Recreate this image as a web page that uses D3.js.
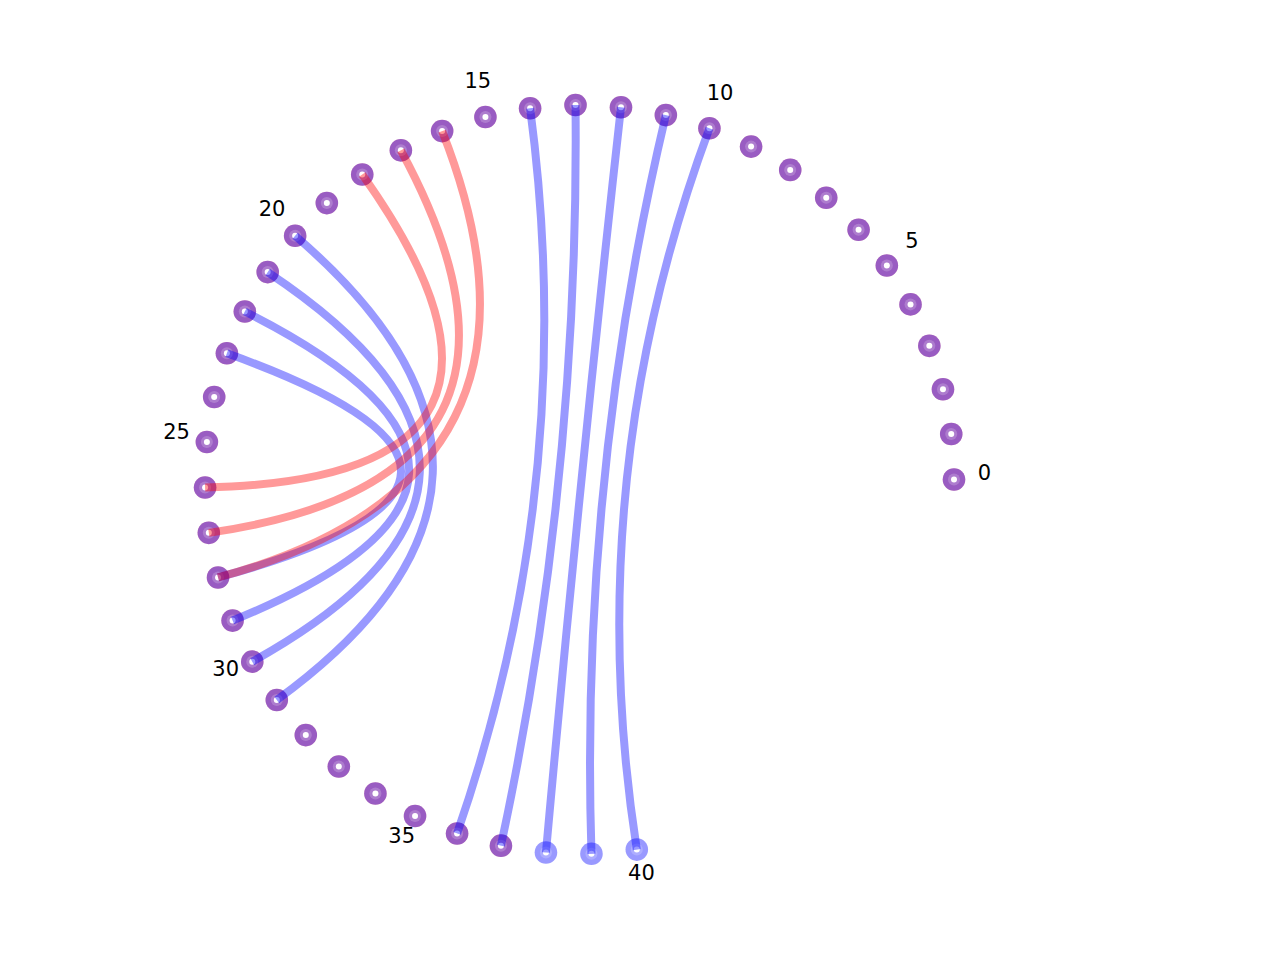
<!DOCTYPE html>
<html lang="en">
  <head>
    <meta charset="UTF-8">
    <title>Circular network</title>
    <script src="https://d3js.org/d3.v7.min.js"></script>
    <style>
      body { margin: 0; background: #fff; }
      text { font-family: "DejaVu Sans", sans-serif; }
    </style>
    <script>
      // node ids around the circle
      const nodes = [0, 1, 2, 3, 4, 5, 6, 7, 8, 9, 10, 11, 12, 13, 14, 15, 16, 17, 18, 19, 20,
                     21, 22, 23, 24, 25, 26, 27, 28, 29, 30, 31, 32, 33, 34, 35, 36, 37, 38, 39, 40];
      // nodes of each network
      const redNodes = [0, 1, 2, 3, 4, 5, 6, 7, 8, 9, 10, 11, 12, 13, 14, 15, 16, 17, 18, 19, 20,
                        21, 22, 23, 24, 25, 26, 27, 28, 29, 30, 31, 32, 33, 34, 35, 36, 37];
      const blueNodes = nodes;
      // links
      const redEdges = [[16, 28], [17, 27], [18, 26]];
      const blueEdges = [[10, 40], [11, 39], [12, 38], [13, 37], [14, 36],
                         [20, 31], [21, 30], [22, 29], [23, 28]];
      const tickLabels = [0, 5, 10, 15, 20, 25, 30, 35, 40];

      document.addEventListener('DOMContentLoaded', function() {
        const width = 1280;
        const height = 960;
        const cx = 579.5, cy = 479.5;
        const radius = 374.5;
        const labelRadius = 405;

        // angle in degrees, counter-clockwise from 3 o'clock
        const angle = d3.scaleLinear()
                        .domain([0, 40])
                        .range([0, 278.8]);

        const pos = (i, r) => {
          const a = angle(i) * Math.PI / 180;
          return [r * Math.cos(a), -r * Math.sin(a)];
        };

        const svg = d3.select("#chart")
                      .append("svg")
                      .attr("width", width)
                      .attr("height", height);

        const g = svg.append("g")
                     .attr("transform", "translate(" + cx + "," + cy + ")");

        // node discs, one layer per network
        const drawNodes = (list, colour) => {
          g.append("g")
           .selectAll("circle")
           .data(list)
           .enter()
           .append("circle")
           .attr("cx", d => pos(d, radius)[0])
           .attr("cy", d => pos(d, radius)[1])
           .attr("r", 11.3)
           .attr("fill", colour)
           .attr("fill-opacity", 0.4);
        };
        drawNodes(redNodes, "#ff0000");
        drawNodes(blueNodes, "#0000ff");

        const inner = g.append("g");
        inner.selectAll("circle.ring")
             .data(nodes)
             .enter()
             .append("circle")
             .attr("class", "ring")
             .attr("cx", d => pos(d, radius)[0])
             .attr("cy", d => pos(d, radius)[1])
             .attr("r", 6)
             .attr("fill", "#fff")
             .attr("fill-opacity", 0.2);
        inner.selectAll("circle.dot")
             .data(nodes)
             .enter()
             .append("circle")
             .attr("class", "dot")
             .attr("cx", d => pos(d, radius)[0])
             .attr("cy", d => pos(d, radius)[1])
             .attr("r", 3)
             .attr("fill", "#fff");

        // links: quadratic curves bent through the centre
        const link = d => {
          const p = d3.path();
          const a = pos(d[0], radius), b = pos(d[1], radius);
          p.moveTo(a[0], a[1]);
          p.quadraticCurveTo(0, 0, b[0], b[1]);
          return p.toString();
        };
        const drawEdges = (list, colour) => {
          g.append("g")
           .selectAll("path")
           .data(list)
           .enter()
           .append("path")
           .attr("d", link)
           .attr("fill", "none")
           .attr("stroke", colour)
           .attr("stroke-opacity", 0.4)
           .attr("stroke-width", 8);
        };
        drawEdges(blueEdges, "#0000ff");
        drawEdges(redEdges, "#ff0000");

        // labels every fifth node
        g.append("g")
         .selectAll("text")
         .data(tickLabels)
         .enter()
         .append("text")
         .attr("x", d => pos(d, labelRadius)[0])
         .attr("y", d => pos(d, labelRadius)[1])
         .attr("text-anchor", "middle")
         .attr("font-size", 21)
         .attr("fill", "#000")
         .text(d => d);
      });
    </script>
  </head>
  <body>
    <div id="chart"></div>
  </body>
</html>
